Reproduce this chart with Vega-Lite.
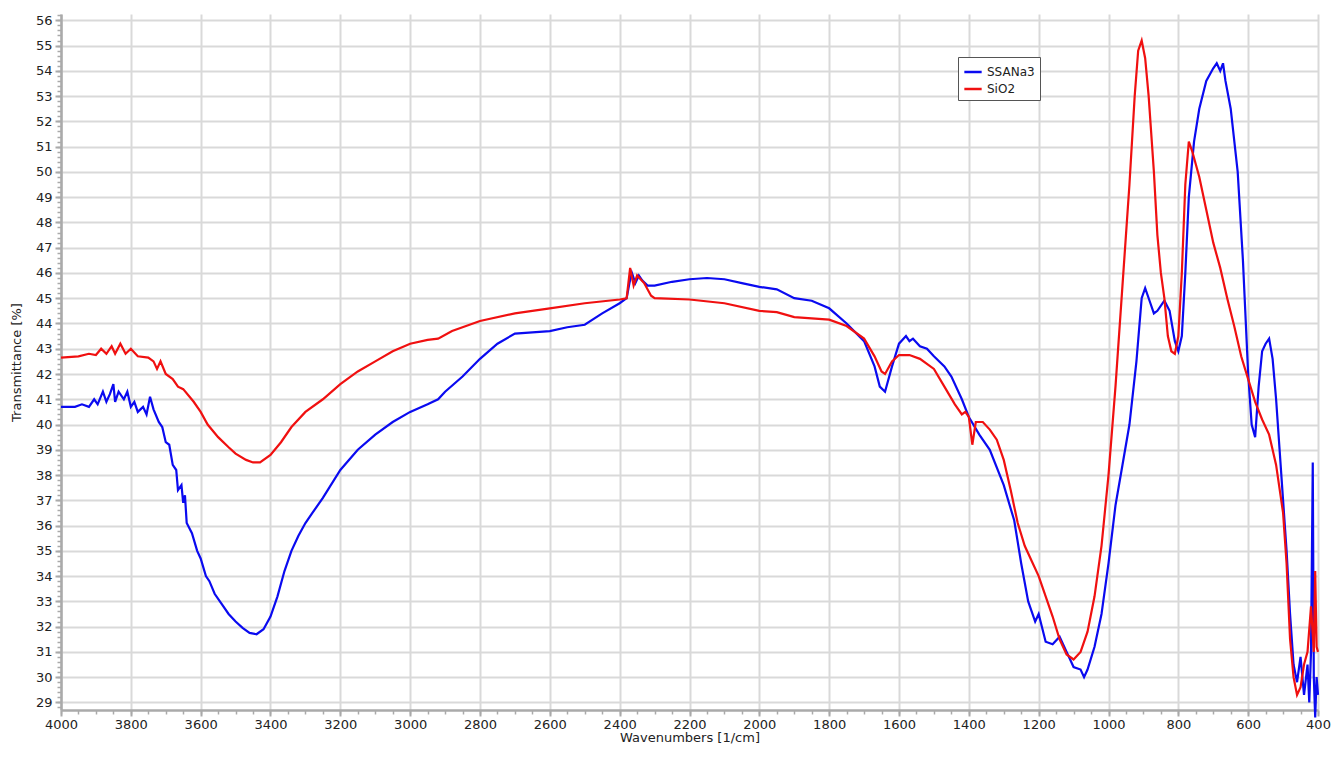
{
  "$schema": "https://vega.github.io/schema/vega-lite/v6.json",
  "width": 1257,
  "height": 696,
  "autosize": {"type": "none"},
  "padding": {"left": 61, "top": 14, "right": 15, "bottom": 61},
  "background": "white",
  "config": {
    "view": {"stroke": null},
    "font": "DejaVu Sans"
  },
  "datasets": {
    "spectra": [
      {"s":"SSANa3","x":4000,"y":40.7},{"s":"SSANa3","x":3960,"y":40.7},{"s":"SSANa3","x":3940,"y":40.8},{"s":"SSANa3","x":3920,"y":40.7},{"s":"SSANa3","x":3905,"y":41.0},{"s":"SSANa3","x":3895,"y":40.8},{"s":"SSANa3","x":3880,"y":41.3},{"s":"SSANa3","x":3870,"y":40.9},{"s":"SSANa3","x":3860,"y":41.2},{"s":"SSANa3","x":3850,"y":41.6},{"s":"SSANa3","x":3845,"y":40.9},{"s":"SSANa3","x":3835,"y":41.3},{"s":"SSANa3","x":3820,"y":41.0},{"s":"SSANa3","x":3810,"y":41.3},{"s":"SSANa3","x":3800,"y":40.7},{"s":"SSANa3","x":3790,"y":40.9},{"s":"SSANa3","x":3780,"y":40.5},{"s":"SSANa3","x":3765,"y":40.7},{"s":"SSANa3","x":3755,"y":40.4},{"s":"SSANa3","x":3745,"y":41.1},{"s":"SSANa3","x":3735,"y":40.6},{"s":"SSANa3","x":3720,"y":40.1},{"s":"SSANa3","x":3710,"y":39.9},{"s":"SSANa3","x":3700,"y":39.3},{"s":"SSANa3","x":3690,"y":39.2},{"s":"SSANa3","x":3680,"y":38.4},{"s":"SSANa3","x":3670,"y":38.2},{"s":"SSANa3","x":3665,"y":37.4},{"s":"SSANa3","x":3655,"y":37.6},{"s":"SSANa3","x":3650,"y":36.9},{"s":"SSANa3","x":3645,"y":37.2},{"s":"SSANa3","x":3640,"y":36.1},{"s":"SSANa3","x":3625,"y":35.7},{"s":"SSANa3","x":3610,"y":35.0},{"s":"SSANa3","x":3600,"y":34.7},{"s":"SSANa3","x":3585,"y":34.0},{"s":"SSANa3","x":3575,"y":33.8},{"s":"SSANa3","x":3560,"y":33.3},{"s":"SSANa3","x":3540,"y":32.9},{"s":"SSANa3","x":3520,"y":32.5},{"s":"SSANa3","x":3500,"y":32.2},{"s":"SSANa3","x":3480,"y":31.95},{"s":"SSANa3","x":3460,"y":31.75},{"s":"SSANa3","x":3440,"y":31.7},{"s":"SSANa3","x":3420,"y":31.9},{"s":"SSANa3","x":3400,"y":32.4},{"s":"SSANa3","x":3380,"y":33.2},{"s":"SSANa3","x":3360,"y":34.2},{"s":"SSANa3","x":3340,"y":35.0},{"s":"SSANa3","x":3320,"y":35.6},{"s":"SSANa3","x":3300,"y":36.1},{"s":"SSANa3","x":3280,"y":36.5},{"s":"SSANa3","x":3250,"y":37.1},{"s":"SSANa3","x":3200,"y":38.2},{"s":"SSANa3","x":3150,"y":39.0},{"s":"SSANa3","x":3100,"y":39.6},{"s":"SSANa3","x":3050,"y":40.1},{"s":"SSANa3","x":3000,"y":40.5},{"s":"SSANa3","x":2950,"y":40.8},{"s":"SSANa3","x":2920,"y":41.0},{"s":"SSANa3","x":2900,"y":41.3},{"s":"SSANa3","x":2850,"y":41.9},{"s":"SSANa3","x":2800,"y":42.6},{"s":"SSANa3","x":2750,"y":43.2},{"s":"SSANa3","x":2700,"y":43.6},{"s":"SSANa3","x":2650,"y":43.65},{"s":"SSANa3","x":2600,"y":43.7},{"s":"SSANa3","x":2550,"y":43.85},{"s":"SSANa3","x":2500,"y":43.95},{"s":"SSANa3","x":2450,"y":44.4},{"s":"SSANa3","x":2400,"y":44.8},{"s":"SSANa3","x":2380,"y":45.0},{"s":"SSANa3","x":2372,"y":45.6},{"s":"SSANa3","x":2365,"y":46.0},{"s":"SSANa3","x":2355,"y":45.6},{"s":"SSANa3","x":2345,"y":45.9},{"s":"SSANa3","x":2335,"y":45.7},{"s":"SSANa3","x":2320,"y":45.5},{"s":"SSANa3","x":2300,"y":45.5},{"s":"SSANa3","x":2250,"y":45.65},{"s":"SSANa3","x":2200,"y":45.75},{"s":"SSANa3","x":2150,"y":45.8},{"s":"SSANa3","x":2100,"y":45.75},{"s":"SSANa3","x":2050,"y":45.6},{"s":"SSANa3","x":2000,"y":45.45},{"s":"SSANa3","x":1950,"y":45.35},{"s":"SSANa3","x":1900,"y":45.0},{"s":"SSANa3","x":1850,"y":44.9},{"s":"SSANa3","x":1800,"y":44.6},{"s":"SSANa3","x":1750,"y":44.0},{"s":"SSANa3","x":1700,"y":43.3},{"s":"SSANa3","x":1670,"y":42.3},{"s":"SSANa3","x":1655,"y":41.5},{"s":"SSANa3","x":1640,"y":41.3},{"s":"SSANa3","x":1620,"y":42.3},{"s":"SSANa3","x":1600,"y":43.2},{"s":"SSANa3","x":1580,"y":43.5},{"s":"SSANa3","x":1570,"y":43.3},{"s":"SSANa3","x":1560,"y":43.4},{"s":"SSANa3","x":1540,"y":43.1},{"s":"SSANa3","x":1520,"y":43.0},{"s":"SSANa3","x":1500,"y":42.7},{"s":"SSANa3","x":1470,"y":42.3},{"s":"SSANa3","x":1450,"y":41.9},{"s":"SSANa3","x":1420,"y":41.0},{"s":"SSANa3","x":1400,"y":40.3},{"s":"SSANa3","x":1370,"y":39.6},{"s":"SSANa3","x":1340,"y":39.0},{"s":"SSANa3","x":1300,"y":37.6},{"s":"SSANa3","x":1270,"y":36.2},{"s":"SSANa3","x":1250,"y":34.5},{"s":"SSANa3","x":1230,"y":33.0},{"s":"SSANa3","x":1210,"y":32.2},{"s":"SSANa3","x":1200,"y":32.5},{"s":"SSANa3","x":1180,"y":31.4},{"s":"SSANa3","x":1160,"y":31.3},{"s":"SSANa3","x":1140,"y":31.6},{"s":"SSANa3","x":1120,"y":31.0},{"s":"SSANa3","x":1100,"y":30.4},{"s":"SSANa3","x":1080,"y":30.3},{"s":"SSANa3","x":1070,"y":30.0},{"s":"SSANa3","x":1060,"y":30.3},{"s":"SSANa3","x":1040,"y":31.2},{"s":"SSANa3","x":1020,"y":32.5},{"s":"SSANa3","x":1000,"y":34.5},{"s":"SSANa3","x":980,"y":36.8},{"s":"SSANa3","x":960,"y":38.4},{"s":"SSANa3","x":940,"y":40.0},{"s":"SSANa3","x":920,"y":42.5},{"s":"SSANa3","x":905,"y":45.0},{"s":"SSANa3","x":895,"y":45.4},{"s":"SSANa3","x":880,"y":44.8},{"s":"SSANa3","x":870,"y":44.4},{"s":"SSANa3","x":860,"y":44.5},{"s":"SSANa3","x":840,"y":44.9},{"s":"SSANa3","x":825,"y":44.5},{"s":"SSANa3","x":810,"y":43.3},{"s":"SSANa3","x":800,"y":42.9},{"s":"SSANa3","x":790,"y":43.5},{"s":"SSANa3","x":780,"y":46.0},{"s":"SSANa3","x":770,"y":49.0},{"s":"SSANa3","x":755,"y":51.2},{"s":"SSANa3","x":740,"y":52.5},{"s":"SSANa3","x":720,"y":53.6},{"s":"SSANa3","x":700,"y":54.1},{"s":"SSANa3","x":690,"y":54.3},{"s":"SSANa3","x":680,"y":54.0},{"s":"SSANa3","x":672,"y":54.3},{"s":"SSANa3","x":665,"y":53.6},{"s":"SSANa3","x":650,"y":52.5},{"s":"SSANa3","x":630,"y":50.0},{"s":"SSANa3","x":615,"y":46.5},{"s":"SSANa3","x":600,"y":42.0},{"s":"SSANa3","x":590,"y":40.0},{"s":"SSANa3","x":580,"y":39.5},{"s":"SSANa3","x":570,"y":41.5},{"s":"SSANa3","x":560,"y":42.9},{"s":"SSANa3","x":550,"y":43.2},{"s":"SSANa3","x":540,"y":43.4},{"s":"SSANa3","x":530,"y":42.6},{"s":"SSANa3","x":520,"y":41.0},{"s":"SSANa3","x":510,"y":39.0},{"s":"SSANa3","x":500,"y":37.0},{"s":"SSANa3","x":490,"y":35.0},{"s":"SSANa3","x":480,"y":32.5},{"s":"SSANa3","x":470,"y":30.5},{"s":"SSANa3","x":460,"y":29.8},{"s":"SSANa3","x":450,"y":30.8},{"s":"SSANa3","x":440,"y":29.3},{"s":"SSANa3","x":430,"y":30.5},{"s":"SSANa3","x":425,"y":29.0},{"s":"SSANa3","x":420,"y":31.0},{"s":"SSANa3","x":415,"y":38.5},{"s":"SSANa3","x":412,"y":30.0},{"s":"SSANa3","x":408,"y":28.4},{"s":"SSANa3","x":404,"y":30.0},{"s":"SSANa3","x":400,"y":29.3},
      {"s":"SiO2","x":4000,"y":42.65},{"s":"SiO2","x":3950,"y":42.7},{"s":"SiO2","x":3920,"y":42.8},{"s":"SiO2","x":3900,"y":42.75},{"s":"SiO2","x":3885,"y":43.0},{"s":"SiO2","x":3870,"y":42.8},{"s":"SiO2","x":3855,"y":43.1},{"s":"SiO2","x":3845,"y":42.8},{"s":"SiO2","x":3830,"y":43.2},{"s":"SiO2","x":3815,"y":42.8},{"s":"SiO2","x":3800,"y":43.0},{"s":"SiO2","x":3780,"y":42.7},{"s":"SiO2","x":3750,"y":42.65},{"s":"SiO2","x":3735,"y":42.5},{"s":"SiO2","x":3725,"y":42.2},{"s":"SiO2","x":3715,"y":42.5},{"s":"SiO2","x":3700,"y":42.0},{"s":"SiO2","x":3680,"y":41.8},{"s":"SiO2","x":3665,"y":41.5},{"s":"SiO2","x":3650,"y":41.4},{"s":"SiO2","x":3620,"y":40.9},{"s":"SiO2","x":3600,"y":40.5},{"s":"SiO2","x":3580,"y":40.0},{"s":"SiO2","x":3550,"y":39.5},{"s":"SiO2","x":3520,"y":39.1},{"s":"SiO2","x":3500,"y":38.85},{"s":"SiO2","x":3470,"y":38.6},{"s":"SiO2","x":3450,"y":38.5},{"s":"SiO2","x":3430,"y":38.5},{"s":"SiO2","x":3400,"y":38.8},{"s":"SiO2","x":3370,"y":39.3},{"s":"SiO2","x":3340,"y":39.9},{"s":"SiO2","x":3300,"y":40.5},{"s":"SiO2","x":3250,"y":41.0},{"s":"SiO2","x":3200,"y":41.6},{"s":"SiO2","x":3150,"y":42.1},{"s":"SiO2","x":3100,"y":42.5},{"s":"SiO2","x":3050,"y":42.9},{"s":"SiO2","x":3000,"y":43.2},{"s":"SiO2","x":2950,"y":43.35},{"s":"SiO2","x":2920,"y":43.4},{"s":"SiO2","x":2880,"y":43.7},{"s":"SiO2","x":2850,"y":43.85},{"s":"SiO2","x":2800,"y":44.1},{"s":"SiO2","x":2700,"y":44.4},{"s":"SiO2","x":2600,"y":44.6},{"s":"SiO2","x":2500,"y":44.8},{"s":"SiO2","x":2400,"y":44.95},{"s":"SiO2","x":2380,"y":45.0},{"s":"SiO2","x":2370,"y":46.2},{"s":"SiO2","x":2360,"y":45.5},{"s":"SiO2","x":2350,"y":45.9},{"s":"SiO2","x":2330,"y":45.6},{"s":"SiO2","x":2310,"y":45.1},{"s":"SiO2","x":2300,"y":45.0},{"s":"SiO2","x":2200,"y":44.95},{"s":"SiO2","x":2100,"y":44.8},{"s":"SiO2","x":2000,"y":44.5},{"s":"SiO2","x":1950,"y":44.45},{"s":"SiO2","x":1900,"y":44.25},{"s":"SiO2","x":1850,"y":44.2},{"s":"SiO2","x":1800,"y":44.15},{"s":"SiO2","x":1750,"y":43.9},{"s":"SiO2","x":1700,"y":43.4},{"s":"SiO2","x":1670,"y":42.7},{"s":"SiO2","x":1650,"y":42.1},{"s":"SiO2","x":1640,"y":42.0},{"s":"SiO2","x":1620,"y":42.5},{"s":"SiO2","x":1600,"y":42.75},{"s":"SiO2","x":1570,"y":42.75},{"s":"SiO2","x":1540,"y":42.6},{"s":"SiO2","x":1500,"y":42.2},{"s":"SiO2","x":1470,"y":41.5},{"s":"SiO2","x":1440,"y":40.8},{"s":"SiO2","x":1420,"y":40.4},{"s":"SiO2","x":1410,"y":40.5},{"s":"SiO2","x":1400,"y":40.3},{"s":"SiO2","x":1390,"y":39.2},{"s":"SiO2","x":1380,"y":40.1},{"s":"SiO2","x":1360,"y":40.1},{"s":"SiO2","x":1340,"y":39.8},{"s":"SiO2","x":1320,"y":39.4},{"s":"SiO2","x":1300,"y":38.6},{"s":"SiO2","x":1280,"y":37.4},{"s":"SiO2","x":1260,"y":36.1},{"s":"SiO2","x":1240,"y":35.2},{"s":"SiO2","x":1220,"y":34.6},{"s":"SiO2","x":1200,"y":34.0},{"s":"SiO2","x":1180,"y":33.2},{"s":"SiO2","x":1160,"y":32.4},{"s":"SiO2","x":1140,"y":31.5},{"s":"SiO2","x":1120,"y":30.9},{"s":"SiO2","x":1100,"y":30.7},{"s":"SiO2","x":1080,"y":31.0},{"s":"SiO2","x":1060,"y":31.8},{"s":"SiO2","x":1040,"y":33.2},{"s":"SiO2","x":1020,"y":35.2},{"s":"SiO2","x":1000,"y":38.0},{"s":"SiO2","x":980,"y":41.5},{"s":"SiO2","x":960,"y":45.5},{"s":"SiO2","x":940,"y":49.5},{"s":"SiO2","x":925,"y":53.0},{"s":"SiO2","x":915,"y":54.8},{"s":"SiO2","x":905,"y":55.2},{"s":"SiO2","x":895,"y":54.5},{"s":"SiO2","x":885,"y":53.0},{"s":"SiO2","x":870,"y":50.0},{"s":"SiO2","x":860,"y":47.5},{"s":"SiO2","x":850,"y":46.0},{"s":"SiO2","x":840,"y":45.0},{"s":"SiO2","x":830,"y":43.5},{"s":"SiO2","x":820,"y":42.9},{"s":"SiO2","x":810,"y":42.8},{"s":"SiO2","x":800,"y":43.5},{"s":"SiO2","x":790,"y":46.0},{"s":"SiO2","x":780,"y":49.5},{"s":"SiO2","x":770,"y":51.2},{"s":"SiO2","x":760,"y":50.8},{"s":"SiO2","x":750,"y":50.3},{"s":"SiO2","x":740,"y":49.8},{"s":"SiO2","x":720,"y":48.5},{"s":"SiO2","x":700,"y":47.2},{"s":"SiO2","x":680,"y":46.2},{"s":"SiO2","x":660,"y":45.0},{"s":"SiO2","x":640,"y":43.9},{"s":"SiO2","x":620,"y":42.7},{"s":"SiO2","x":600,"y":41.8},{"s":"SiO2","x":580,"y":40.9},{"s":"SiO2","x":560,"y":40.2},{"s":"SiO2","x":540,"y":39.6},{"s":"SiO2","x":520,"y":38.4},{"s":"SiO2","x":500,"y":36.5},{"s":"SiO2","x":490,"y":34.5},{"s":"SiO2","x":480,"y":31.5},{"s":"SiO2","x":470,"y":30.0},{"s":"SiO2","x":460,"y":29.3},{"s":"SiO2","x":450,"y":29.6},{"s":"SiO2","x":440,"y":30.5},{"s":"SiO2","x":430,"y":31.0},{"s":"SiO2","x":420,"y":32.8},{"s":"SiO2","x":412,"y":31.0},{"s":"SiO2","x":408,"y":34.2},{"s":"SiO2","x":404,"y":31.2},{"s":"SiO2","x":400,"y":31.0}
    ]
  },
  "data": {"name": "spectra"},
  "resolve": {"axis": {"x": "independent", "y": "independent"}},
  "layer": [
    {
      "mark": {"type": "line", "strokeOpacity": 0},
      "encoding": {
        "x": {"field": "x", "type": "quantitative",
          "scale": {"domain": [400, 4000], "reverse": true, "nice": false, "zero": false},
          "axis": {"orient": "bottom", "tickCount": 72, "labels": false, "grid": false, "domain": false, "ticks": true, "tickSize": 4, "tickColor": "#aaaaaa", "tickWidth": 1.5, "title": null}},
        "y": {"field": "y", "type": "quantitative",
          "scale": {"domain": [28.7, 56.25], "nice": false, "zero": false},
          "axis": {"orient": "left", "tickCount": 140, "labels": false, "grid": false, "domain": false, "ticks": true, "tickSize": 4, "tickColor": "#aaaaaa", "tickWidth": 1.5, "title": null}}
      }
    },
    {
      "mark": {"type": "line", "strokeWidth": 2.2, "clip": false},
      "encoding": {
        "x": {"field": "x", "type": "quantitative",
          "scale": {"domain": [400, 4000], "reverse": true, "nice": false, "zero": false},
          "axis": {"orient": "bottom", "values": [4000,3800,3600,3400,3200,3000,2800,2600,2400,2200,2000,1800,1600,1400,1200,1000,800,600,400],
            "format": "d", "labelFlush": false, "labelOverlap": false, "labelFontSize": 13, "labelColor": "#222222", "labelPadding": 2,
            "grid": true, "gridColor": "#d9d9d9", "gridWidth": 2,
            "domainColor": "#aaaaaa", "domainWidth": 2.5, "tickColor": "#aaaaaa", "tickWidth": 2, "tickSize": 6,
            "title": "Wavenumbers [1/cm]", "titleFontSize": 13, "titleFontWeight": "normal", "titleColor": "#222222", "titlePadding": 0}},
        "y": {"field": "y", "type": "quantitative",
          "scale": {"domain": [28.7, 56.25], "nice": false, "zero": false},
          "axis": {"orient": "left", "values": [29,30,31,32,33,34,35,36,37,38,39,40,41,42,43,44,45,46,47,48,49,50,51,52,53,54,55,56],
            "labelFlush": false, "labelOverlap": false, "labelFontSize": 13, "labelColor": "#222222", "labelPadding": 3,
            "grid": true, "gridColor": "#d9d9d9", "gridWidth": 2,
            "domainColor": "#aaaaaa", "domainWidth": 2.5, "tickColor": "#aaaaaa", "tickWidth": 2, "tickSize": 6,
            "title": "Transmittance [%]", "titleFontSize": 13, "titleFontWeight": "normal", "titleColor": "#222222", "titlePadding": 12}},
        "color": {"field": "s", "type": "nominal",
          "scale": {"domain": ["SSANa3", "SiO2"], "range": ["#0a0af0", "#f01010"]},
          "legend": {"orient": "none", "legendX": 897, "legendY": 43, "title": null,
            "symbolType": "stroke", "symbolSize": 300, "symbolStrokeWidth": 2.5,
            "labelFontSize": 12, "labelColor": "#222222", "strokeColor": "#555555", "fillColor": "white",
            "padding": 5, "rowPadding": 1, "labelOffset": 4}}
      }
    }
  ]
}
